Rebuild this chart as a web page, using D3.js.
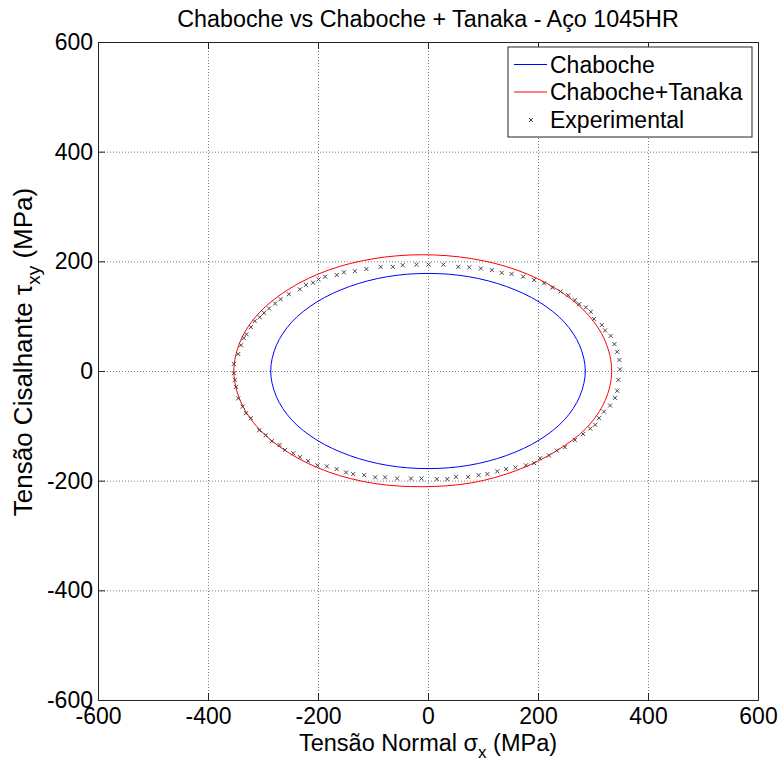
<!DOCTYPE html>
<html><head><meta charset="utf-8">
<script src="https://cdn.jsdelivr.net/npm/d3@7"></script>
<style>
html,body{margin:0;padding:0;background:#fff;}
text{font-family:"Liberation Sans",Arial,Helvetica,sans-serif;fill:#000;}
</style></head>
<body>
<svg id="chart" width="781" height="762"></svg>
<script>
// ---- data ----
const titleText = "Chaboche vs Chaboche + Tanaka - Aço 1045HR";
const xTicks = [-600, -400, -200, 0, 200, 400, 600];
const yTicks = [-600, -400, -200, 0, 200, 400, 600];
const seriesNames = ["Chaboche", "Chaboche+Tanaka", "Experimental"];

// Chaboche curve (sigma_x, tau_xy)
const chaboche = [
  [286,0],[276,46],[248,89],[202,126],[143,154],[74,172],[0,178],
  [-74,172],[-143,154],[-202,126],[-248,89],[-276,46],[-286,0],
  [-276,-46],[-248,-89],[-202,-126],[-143,-154],[-74,-172],[0,-178],
  [74,-172],[143,-154],[202,-126],[248,-89],[276,-46]
];

// Chaboche + Tanaka curve
const chabocheTanaka = [
  [334,0],[322,55],[288,106],[233,150],[162,184],[79,205],[-10,212],
  [-98,205],[-181,184],[-252,150],[-307,106],[-341,55],[-353,0],
  [-341,-55],[-307,-106],[-252,-150],[-181,-184],[-98,-205],[-10,-211],
  [79,-204],[162,-181],[233,-146],[288,-104],[322,-54]
];

// Experimental points
const experimental = [
  [-353,13],[-345,31],[-340,47],[-335,60],[-330,67],[-322,80],[-315,91],[-306,98],[-298,106],
  [-289,114],[-278,123],[-268,131],[-253,140],[-233,149],[-222,157],[-209,161],[-199,167],
  [-187,172],[-166,175],[-153,180],[-133,182],[-112,186],[-86,190],[-64,190],[-46,193],
  [-21,194],[1,194],
  [28,194],[55,190],[75,189],[96,187],[116,184],[134,179],[152,177],[173,172],[193,166],
  [211,160],[226,152],[241,145],[255,138],[267,129],[275,122],[287,116],[296,108],[302,95],
  [316,84],[322,74],[332,64],[339,49],[344,35],[348,20],[349,3],
  [-353,-4],[-351,-16],[-349,-29],[-345,-50],[-337,-65],[-331,-77],[-322,-86],[-307,-108],
  [-295,-117],[-284,-128],[-270,-135],[-260,-144],[-245,-150],[-233,-157],[-218,-164],
  [-201,-172],[-184,-174],[-166,-179],[-149,-185],[-136,-188],[-116,-190],[-96,-194],
  [-78,-194],[-56,-196],[-31,-196],[-12,-196],
  [16,-197],[35,-197],[51,-193],[73,-193],[92,-190],[108,-188],[126,-183],[142,-179],
  [159,-176],[178,-172],[193,-168],[204,-159],[220,-154],[234,-145],[249,-139],[267,-126],
  [282,-115],[295,-105],[304,-98],[311,-86],[320,-74],[331,-63],[340,-49],[344,-36],[346,-16]
];

// ---- drawing ----
const svg = d3.select("#chart");
const L = 98, R = 758, T = 42, B = 700;
const x = d3.scaleLinear().domain([-600, 600]).range([L, R]);
const y = d3.scaleLinear().domain([-600, 600]).range([B, T]);
const W = R - L, H = B - T;
const FONT = 23;

// grid
const gx = svg.append("g").attr("transform", `translate(0,${B})`)
  .call(d3.axisBottom(x).tickValues(xTicks.slice(1, -1)).tickSize(-H).tickFormat(""));
gx.select(".domain").remove();
gx.selectAll("line").attr("stroke", "#7a7a7a").attr("stroke-dasharray", "1,2");
const gy = svg.append("g").attr("transform", `translate(${L},0)`)
  .call(d3.axisLeft(y).tickValues(yTicks.slice(1, -1)).tickSize(-W).tickFormat(""));
gy.select(".domain").remove();
gy.selectAll("line").attr("stroke", "#7a7a7a").attr("stroke-dasharray", "1,2");

// curves
const line = d3.line().x(d => x(d[0])).y(d => y(d[1])).curve(d3.curveCatmullRomClosed.alpha(0.5));
svg.append("path").datum(chaboche).attr("d", line)
  .attr("fill", "none").attr("stroke", "#0000ff").attr("stroke-width", 1);
svg.append("path").datum(chabocheTanaka).attr("d", line)
  .attr("fill", "none").attr("stroke", "#ff0000").attr("stroke-width", 1);

// experimental markers
const ms = 2;
const xMark = (g) => {
  g.append("line").attr("x1", -ms).attr("y1", -ms).attr("x2", ms).attr("y2", ms);
  g.append("line").attr("x1", -ms).attr("y1", ms).attr("x2", ms).attr("y2", -ms);
};
svg.append("g").selectAll("g").data(experimental).join("g")
  .attr("transform", d => `translate(${x(d[0])},${y(d[1])})`)
  .attr("stroke", "#444").attr("stroke-width", 1)
  .each(function () { xMark(d3.select(this)); });

// axes (ticks inward)
const tick = 7;
const fmt = d => String(d);
const axB = svg.append("g").attr("transform", `translate(0,${B})`)
  .call(d3.axisBottom(x).tickValues(xTicks).tickSizeInner(-tick).tickSizeOuter(0).tickPadding(8)
    .tickFormat(fmt));
const axT = svg.append("g").attr("transform", `translate(0,${T})`)
  .call(d3.axisTop(x).tickValues(xTicks).tickSizeInner(-tick).tickSizeOuter(0).tickFormat(""));
const axL = svg.append("g").attr("transform", `translate(${L},0)`)
  .call(d3.axisLeft(y).tickValues(yTicks).tickSizeInner(-tick).tickSizeOuter(0).tickPadding(5)
    .tickFormat(fmt));
const axR = svg.append("g").attr("transform", `translate(${R},0)`)
  .call(d3.axisRight(y).tickValues(yTicks).tickSizeInner(-tick).tickSizeOuter(0).tickFormat(""));
[axB, axT, axL, axR].forEach(a => {
  a.selectAll("path,line").attr("stroke", "#222");
  a.selectAll("text").attr("font-size", FONT).attr("font-family", null).attr("fill", "#000");
});
axB.selectAll("text").attr("dy", "0.71em");
axL.selectAll("text").attr("dy", "0.33em");

// title
svg.append("text").attr("x", (L + R) / 2).attr("y", 27).attr("text-anchor", "middle")
  .attr("font-size", 23.3).text(titleText);

// x label
const xl = svg.append("text").attr("x", (L + R) / 2).attr("y", 751).attr("text-anchor", "middle")
  .attr("font-size", 23.5);
xl.append("tspan").text("Tensão Normal σ");
xl.append("tspan").attr("font-size", 17).attr("dy", 7).text("x");
xl.append("tspan").attr("dy", -7).text(" (MPa)");

// y label
const yl = svg.append("text").attr("transform", "translate(32,352) rotate(-90)")
  .attr("text-anchor", "middle").attr("font-size", 26);
yl.append("tspan").text("Tensão Cisalhante τ");
yl.append("tspan").attr("font-size", 19).attr("dy", 8).text("xy");
yl.append("tspan").attr("dy", -8).text(" (MPa)");

// legend
const lg = svg.append("g");
lg.append("rect").attr("x", 508).attr("y", 47).attr("width", 244).attr("height", 90)
  .attr("fill", "#fff").attr("stroke", "#222").attr("stroke-width", 1);
const rows = [64.5, 92, 120];
lg.append("line").attr("x1", 514).attr("x2", 547).attr("y1", rows[0]).attr("y2", rows[0])
  .attr("stroke", "#0000ff");
lg.append("line").attr("x1", 514).attr("x2", 547).attr("y1", rows[1]).attr("y2", rows[1])
  .attr("stroke", "#ff0000");
lg.append("g").attr("transform", `translate(531,${rows[2]})`)
  .attr("stroke", "#444").attr("stroke-width", 1).call(xMark);
seriesNames.forEach((n, i) => {
  lg.append("text").attr("x", 550).attr("y", rows[i] + 8).attr("font-size", 23).text(n);
});
</script>
</body></html>
